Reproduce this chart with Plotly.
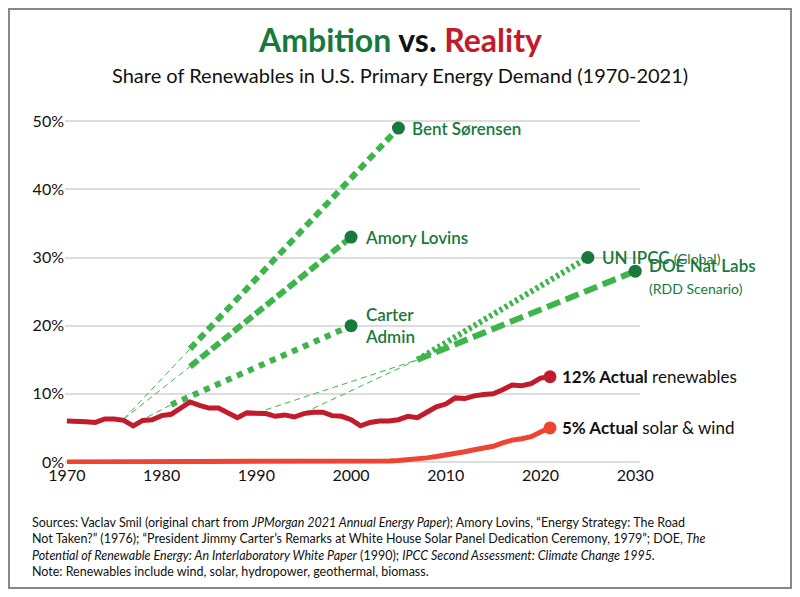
import plotly.graph_objects as go

years = list(range(1970, 2022))
renewables = [6.0, 6.0, 5.9, 5.8, 6.3, 6.3, 6.1, 5.3, 6.1, 6.2,
              6.8, 7.0, 8.0, 8.8, 8.3, 7.9, 7.9, 7.1, 6.5, 7.2,
              7.1, 7.1, 6.7, 6.9, 6.6, 7.1, 7.3, 7.3, 6.8, 6.7,
              6.2, 5.3, 5.8, 6.0, 6.0, 6.2, 6.7, 6.5, 7.3, 8.1,
              8.5, 9.4, 9.3, 9.7, 9.9, 10.0, 10.6, 11.3, 11.2, 11.5,
              12.3, 12.5]
solar_wind = [0.0] * 20 + [0.05] * 10 + [0.1, 0.1, 0.1, 0.12, 0.15, 0.2, 0.3, 0.4, 0.6, 0.8,
                                          1.0, 1.2, 1.5, 1.8, 2.0, 2.3, 2.8, 3.2, 3.4, 3.7,
                                          4.4, 5.0]

# projections: thin dashed lead-in from start to break, then thick line to the forecast point
proj_names = ["Bent Sørensen", "Amory Lovins", "Carter Admin", "UN IPCC", "DOE Nat Labs"]
proj_start_x = [1976, 1976, 1978.5, 1995, 1990]
proj_start_y = [6.3, 6.3, 6.6, 7.2, 7.2]
proj_break_x = [1983, 1983, 1981, 2007, 2007]
proj_break_y = [16.6, 14.0, 8.4, 15.0, 15.0]
proj_end_x = [2005, 2000, 2000, 2025, 2030]
proj_end_y = [49, 33, 20, 30, 28]
proj_dash = ["8px,5px", "10px,4px", "6px,6px", "3px,3px", "14px,6px"]

GREEN = "#3db54a"
DKGREEN = "#17793b"
RED = "#c11b2c"
ORANGE = "#f04433"
FONT = "Lato"


def px(x):
    return (x - 65) / 575


def py(y):
    return (464 - y) / 353


fig = go.Figure()
for i in range(len(proj_names)):
    fig.add_trace(go.Scatter(x=[proj_start_x[i], proj_break_x[i]], y=[proj_start_y[i], proj_break_y[i]],
                             mode="lines", line=dict(color=GREEN, width=1, dash="6px,4px"),
                             hoverinfo="skip"))
    fig.add_trace(go.Scatter(x=[proj_break_x[i], proj_end_x[i]], y=[proj_break_y[i], proj_end_y[i]],
                             mode="lines", line=dict(color=GREEN, width=6, dash=proj_dash[i])))
    fig.add_trace(go.Scatter(x=[proj_end_x[i]], y=[proj_end_y[i]], mode="markers",
                             marker=dict(color=DKGREEN, size=13), cliponaxis=False))

fig.add_trace(go.Scatter(x=years, y=solar_wind, mode="lines", line=dict(color=ORANGE, width=5),
                         cliponaxis=False))
fig.add_trace(go.Scatter(x=[years[-1]], y=[solar_wind[-1]], mode="markers",
                         marker=dict(color=ORANGE, size=13)))
fig.add_trace(go.Scatter(x=years, y=renewables, mode="lines", line=dict(color=RED, width=5)))
fig.add_trace(go.Scatter(x=[years[-1]], y=[renewables[-1]], mode="markers",
                         marker=dict(color=RED, size=13)))

labels = [
    (2005, 49, "Bent Sørensen"),
    (2000, 33, "Amory Lovins"),
    (2000, 20, "Carter<br>Admin"),
    (2025, 30, "UN IPCC <span style='font-size:14px;font-weight:400'>(Global)</span>"),
    (2030, 27.3, "DOE Nat Labs<br><span style='font-size:14px;font-weight:400'>(RDD Scenario)</span>"),
]
for x, y, t in labels:
    fig.add_annotation(x=x, y=y, xshift=12, text=t, showarrow=False, xanchor="left", align="left",
                       font=dict(family=FONT, size=17, color=DKGREEN, weight=600))
fig.add_annotation(x=2021, y=12.5, xshift=10, text="<b>12% Actual</b> renewables", showarrow=False,
                   xanchor="left", font=dict(family=FONT, size=17, color="#111"))
fig.add_annotation(x=2021, y=5.0, xshift=10, text="<b>5% Actual</b> solar &amp; wind", showarrow=False,
                   xanchor="left", font=dict(family=FONT, size=17, color="#111"))

fig.add_annotation(xref="paper", yref="paper", x=px(400), y=py(40), yanchor="middle",
                   text="<b><span style='color:#17793b'>Ambition</span> vs. "
                        "<span style='color:#c11b2c'>Reality</span></b>",
                   showarrow=False, font=dict(family=FONT, size=32, color="#111"))
fig.add_annotation(xref="paper", yref="paper", x=px(400), y=py(75), yanchor="middle",
                   text="Share of Renewables in U.S. Primary Energy Demand (1970-2021)",
                   showarrow=False, font=dict(family=FONT, size=20, color="#111"))
fig.add_annotation(xref="paper", yref="paper", x=px(30), y=py(513), xanchor="left", yanchor="top",
                   align="left", showarrow=False,
                   font=dict(family=FONT, size=12.5, color="#111"),
                   text="Sources: Vaclav Smil (original chart from <i>JPMorgan 2021 Annual Energy Paper</i>); "
                        "Amory Lovins, “Energy Strategy: The Road<br>Not Taken?” (1976); “President Jimmy "
                        "Carter’s Remarks at White House Solar Panel Dedication Ceremony, 1979”; DOE, <i>The</i><br>"
                        "<i>Potential of Renewable Energy: An Interlaboratory White Paper</i> (1990); <i>IPCC Second "
                        "Assessment: Climate Change 1995.</i><br>Note: Renewables include wind, solar, hydropower, "
                        "geothermal, biomass.")
fig.add_shape(type="rect", xref="paper", yref="paper",
              x0=px(9), x1=px(791), y0=py(588), y1=py(9),
              line=dict(color="#888", width=2))

fig.update_layout(
    width=784, height=581, showlegend=False,
    plot_bgcolor="white", paper_bgcolor="white",
    margin=dict(l=57, r=152, t=103, b=125),
    font=dict(family=FONT, size=15, color="#111"),
    xaxis=dict(range=[1969.8, 2030.5], tickvals=[1970, 1980, 1990, 2000, 2010, 2020, 2030],
               showgrid=False, zeroline=False, ticks="", tickfont=dict(size=16)),
    yaxis=dict(range=[-0.3, 51.5], tickvals=[0, 10, 20, 30, 40, 50],
               ticktext=["0%", "10%", "20%", "30%", "40%", "50%"],
               showgrid=True, gridcolor="#dddddd", gridwidth=1.5, zeroline=False, ticks="",
               tickfont=dict(size=16)),
)
fig.write_html("out.html")
